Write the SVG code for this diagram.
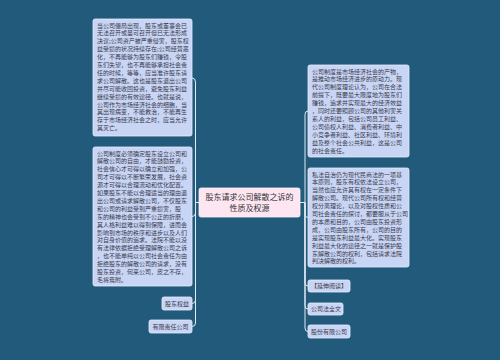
<svg xmlns="http://www.w3.org/2000/svg" width="500" height="360" viewBox="0 0 500 360">
<style>
.bg{fill:#215a7a}
.box{fill:#c8d5f5;stroke:#e6edfb;stroke-width:0.8}
.ctr{fill:#fde6f2;stroke:#f4f4f8;stroke-width:0.8}
.t{font-family:"Noto Sans CJK SC","Noto Sans",sans-serif;font-size:6px;fill:#3a3a4a}
.c{font-family:"Noto Sans CJK SC","Noto Sans",sans-serif;font-size:8px;fill:#333;text-anchor:middle}
.ln{fill:none;stroke:#e4eaf2;stroke-width:1}
</style>
<rect class="bg" x="0" y="0" width="500" height="360"/>
<g id="connectors">
<path class="ln" d="M200,202.5 H195.5 M195.5,202.5 V82 Q195.5,78 192,78 M195.5,202.5 V213 Q195.5,216.5 192,216.5 M195.5,202.5 V300 Q195.5,303.5 192,303.5 M195.5,202.5 V323 Q195.5,326.5 192,326.5"/>
<path class="ln" d="M300,202.5 H305 M305,202.5 V114.5 Q305,111 308,111 M305,202.5 V214 Q305,217.5 308,217.5 M305,202.5 V282.5 Q305,286 308,286 M305,202.5 V305.5 Q305,309 308,309 M305,202.5 V328 Q305,331.5 308,331.5"/>
</g>
<g id="center">
<rect class="ctr" x="199" y="188" width="101" height="29" rx="2"/>
<text class="c" x="249.5" y="200">股东请求公司解散之诉的</text>
<text class="c" x="249.5" y="210.5">性质及权源</text>
</g>
<g id="left1">
<rect class="box" x="93" y="19" width="99" height="117" rx="2"/>
<text class="t" x="97" y="27.5">当公司僵局出现，股东或董事会已</text>
<text class="t" x="97" y="35.4">无法召开或虽可召开但已无法形成</text>
<text class="t" x="97" y="43.3">决议;公司资产被严重侵害，股东权</text>
<text class="t" x="97" y="51.2">益受损的状况持续存在;公司经营恶</text>
<text class="t" x="97" y="59.1">化，不再能够为股东们赚钱，令股</text>
<text class="t" x="97" y="67">东们失望，也不再能够承担社会责</text>
<text class="t" x="97" y="74.9">任的时候，等等，应当准许股东请</text>
<text class="t" x="97" y="82.8">求公司解散。这也是股东退出公司</text>
<text class="t" x="97" y="90.7">并尽可能收回投资，避免股东利益</text>
<text class="t" x="97" y="98.6">继续受损的有效途径。也就是说，</text>
<text class="t" x="97" y="106.5">公司作为市场经济社会的细胞，当</text>
<text class="t" x="97" y="114.4">其出现病变，不能救治，不能再生</text>
<text class="t" x="97" y="122.3">存于市场经济社会之时，应当允许</text>
<text class="t" x="97" y="130.2">其灭亡。</text>
</g>
<g id="left2">
<rect class="box" x="93" y="147" width="99" height="139" rx="2"/>
<text class="t" x="97" y="155.5">公司制度必须确定股东设立公司和</text>
<text class="t" x="97" y="163.4">解散公司的自由，才能鼓励投资，</text>
<text class="t" x="97" y="171.3">社会信心才可得以确立和加强，公</text>
<text class="t" x="97" y="179.2">司才可得以不断繁荣发展，社会资</text>
<text class="t" x="97" y="187.1">源才可得以合理流动和优化配置。</text>
<text class="t" x="97" y="195">如果股东不能以合理适当的理由退</text>
<text class="t" x="97" y="202.9">出公司或请求解散公司，不仅股东</text>
<text class="t" x="97" y="210.8">和公司的利益受到严重损害，股</text>
<text class="t" x="97" y="218.7">东的精神也会受到不公正的折磨，</text>
<text class="t" x="97" y="226.6">其人格利益难以得到保障，进而会</text>
<text class="t" x="97" y="234.5">影响到市场的秩序和进步以及人们</text>
<text class="t" x="97" y="242.4">对自身价值的追求。法院不能以没</text>
<text class="t" x="97" y="250.3">有法律依据拒绝受理解散公司之诉</text>
<text class="t" x="97" y="258.2">，也不能单纯以公司社会责任为由</text>
<text class="t" x="97" y="266.1">拒绝股东的解散公司的请求，没有</text>
<text class="t" x="97" y="274">股东投资，何来公司，皮之不存，</text>
<text class="t" x="97" y="281.9">毛将焉附。</text>
</g>
<g id="left3">
<rect class="box" x="162" y="297" width="30" height="13" rx="2"/>
<text class="t" x="165" y="305.8">股东权益</text>
</g>
<g id="left4">
<rect class="box" x="149" y="320" width="43" height="13" rx="2"/>
<text class="t" x="152.5" y="328.8">有限责任公司</text>
</g>
<g id="right1">
<rect class="box" x="308" y="65" width="101" height="92" rx="2"/>
<text class="t" x="312" y="73.5">公司制度是市场经济社会的产物，</text>
<text class="t" x="312" y="81.4">是推动市场经济进步的原动力。现</text>
<text class="t" x="312" y="89.3">代公司制度理论认为，公司在合法</text>
<text class="t" x="312" y="97.2">前提下，既要最大限度地为股东们</text>
<text class="t" x="312" y="105.1">赚钱，追求并实现最大的经济效益</text>
<text class="t" x="312" y="113">，同时还要照顾公司的其他利害关</text>
<text class="t" x="312" y="120.9">系人的利益，包括公司员工利益、</text>
<text class="t" x="312" y="128.8">公司债权人利益、消费者利益、中</text>
<text class="t" x="312" y="136.7">小竞争者利益、社区利益、环境利</text>
<text class="t" x="312" y="144.6">益及整个社会公共利益，这是公司</text>
<text class="t" x="312" y="152.5">的社会责任。</text>
</g>
<g id="right2">
<rect class="box" x="308" y="168" width="101" height="99" rx="2"/>
<text class="t" x="312" y="176.5">私法自治仍为现代民商法的一项基</text>
<text class="t" x="312" y="184.4">本原则，股东有权依法设立公司，</text>
<text class="t" x="312" y="192.3">当然也应允许其有权在一定条件下</text>
<text class="t" x="312" y="200.2">解散公司。现代公司所有权和经营</text>
<text class="t" x="312" y="208.1">权分离理论，以及对股权性质和公</text>
<text class="t" x="312" y="216">司社会责任的探讨，都要服从于公司</text>
<text class="t" x="312" y="223.9">的本质和目的，公司由股东投资形</text>
<text class="t" x="312" y="231.8">成，公司由股东所有，公司的目的</text>
<text class="t" x="312" y="239.7">是实现股东利益最大化。实现股东</text>
<text class="t" x="312" y="247.6">利益最大化的途径之一就是保护股</text>
<text class="t" x="312" y="255.5">东解散公司的权利，包括请求法院</text>
<text class="t" x="312" y="263.4">判决解散的权利。</text>
</g>
<g id="right3">
<rect class="box" x="308" y="280" width="42" height="12" rx="2"/>
<text class="t" x="311" y="288.3">【延伸阅读】</text>
</g>
<g id="right4">
<rect class="box" x="308" y="303" width="35" height="12" rx="2"/>
<text class="t" x="311" y="311.3">公司法全文</text>
</g>
<g id="right5">
<rect class="box" x="308" y="325" width="42" height="13" rx="2"/>
<text class="t" x="311" y="333.8">股份有限公司</text>
</g>
</svg>
